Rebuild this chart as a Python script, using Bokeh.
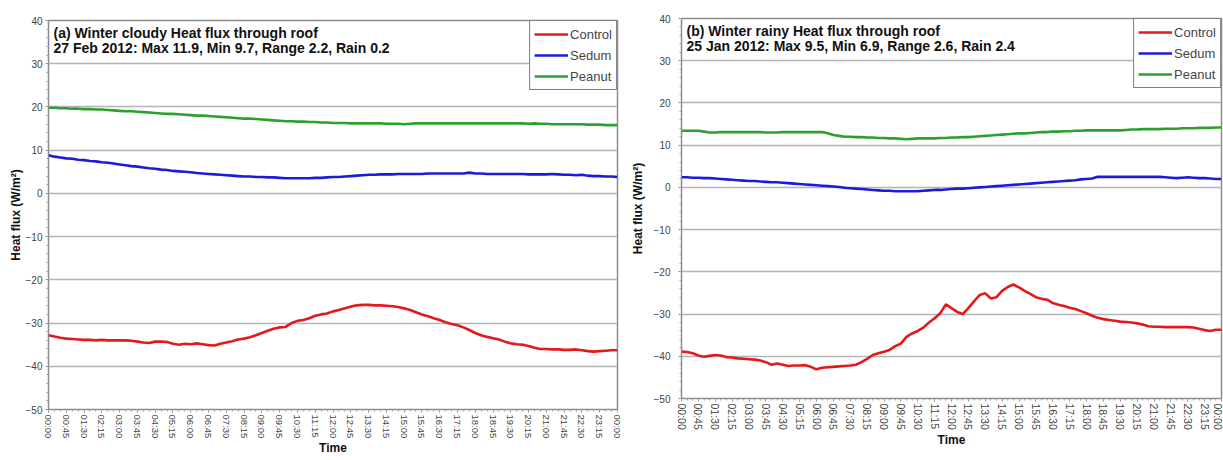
from bokeh.plotting import figure
from bokeh.layouts import row, column
from bokeh.models import FixedTicker, Label, Legend, LegendItem, Range1d
from bokeh.embed import file_html
from bokeh.resources import INLINE

# 15-minute slots over the day (00:00 .. next 00:00)
slot = list(range(97))

time_labels = ["00:00", "00:45", "01:30", "02:15", "03:00", "03:45", "04:30", "05:15",
               "06:00", "06:45", "07:30", "08:15", "09:00", "09:45", "10:30", "11:15",
               "12:00", "12:45", "13:30", "14:15", "15:00", "15:45", "16:30", "17:15",
               "18:00", "18:45", "19:30", "20:15", "21:00", "21:45", "22:30", "23:15",
               "00:00"]

y_ticks = [-50, -40, -30, -20, -10, 0, 10, 20, 30, 40]

series_names = ["Control", "Sedum", "Peanut"]

# (a) Winter cloudy, 27 Feb 2012
a_control = [-32.8, -33.1, -33.4, -33.6, -33.7, -33.8, -33.9, -33.9, -34.0, -33.9,
             -34.0, -34.0, -34.0, -34.0, -34.1, -34.3, -34.5, -34.6, -34.3, -34.3,
             -34.4, -34.8, -35.0, -34.8, -34.9, -34.7, -34.9, -35.1, -35.2, -34.8,
             -34.5, -34.2, -33.8, -33.6, -33.3, -32.8, -32.3, -31.8, -31.3, -31.0,
             -30.9, -30.0, -29.5, -29.3, -28.9, -28.3, -28.0, -27.8, -27.3, -27.0,
             -26.6, -26.2, -25.9, -25.8, -25.8, -25.9, -25.9, -26.0, -26.1, -26.3,
             -26.6, -27.0, -27.5, -28.0, -28.4, -28.9, -29.3, -29.8, -30.2, -30.5,
             -31.0, -31.6, -32.3, -32.8, -33.2, -33.5, -33.8, -34.3, -34.7, -34.9,
             -35.0, -35.3, -35.7, -36.0, -36.0, -36.1, -36.1, -36.2, -36.2, -36.1,
             -36.3, -36.5, -36.6, -36.5, -36.4, -36.3, -36.3]
a_sedum = [8.8, 8.5, 8.3, 8.1, 8.0, 7.8, 7.7, 7.5, 7.4, 7.2,
           7.1, 6.9, 6.7, 6.5, 6.3, 6.2, 6.0, 5.8, 5.7, 5.5,
           5.4, 5.2, 5.1, 5.0, 4.9, 4.7, 4.6, 4.5, 4.4, 4.3,
           4.2, 4.1, 4.0, 3.9, 3.9, 3.8, 3.8, 3.7, 3.7, 3.6,
           3.5, 3.5, 3.5, 3.5, 3.5, 3.6, 3.6, 3.7, 3.8, 3.8,
           3.9, 4.0, 4.1, 4.2, 4.3, 4.3, 4.4, 4.4, 4.4, 4.5,
           4.5, 4.5, 4.5, 4.5, 4.6, 4.6, 4.6, 4.6, 4.6, 4.6,
           4.6, 4.8, 4.6, 4.6, 4.5, 4.5, 4.5, 4.5, 4.5, 4.5,
           4.5, 4.4, 4.4, 4.4, 4.4, 4.5, 4.4, 4.3, 4.3, 4.2,
           4.3, 4.1, 4.0, 4.0, 3.9, 3.9, 3.8]
a_peanut = [19.8, 19.8, 19.7, 19.7, 19.6, 19.6, 19.5, 19.5, 19.4, 19.4,
            19.3, 19.2, 19.1, 19.0, 19.0, 18.9, 18.8, 18.7, 18.6, 18.5,
            18.4, 18.4, 18.3, 18.2, 18.1, 18.0, 18.0, 17.9, 17.8, 17.7,
            17.6, 17.5, 17.4, 17.3, 17.3, 17.2, 17.1, 17.0, 16.9, 16.8,
            16.7, 16.7, 16.6, 16.6, 16.5, 16.5, 16.4, 16.4, 16.3, 16.3,
            16.3, 16.2, 16.2, 16.2, 16.2, 16.2, 16.2, 16.1, 16.1, 16.1,
            16.0, 16.1, 16.2, 16.2, 16.2, 16.2, 16.2, 16.2, 16.2, 16.2,
            16.2, 16.2, 16.2, 16.2, 16.2, 16.2, 16.2, 16.2, 16.2, 16.2,
            16.2, 16.1, 16.2, 16.1, 16.1, 16.0, 16.0, 16.0, 16.0, 16.0,
            16.0, 15.9, 15.9, 15.9, 15.8, 15.8, 15.8]

# (b) Winter rainy, 25 Jan 2012
b_control = [-38.9, -39.0, -39.3, -39.8, -40.1, -39.9, -39.7, -39.8, -40.2, -40.3,
             -40.5, -40.6, -40.7, -40.8, -41.0, -41.4, -42.0, -41.7, -42.0, -42.3,
             -42.2, -42.2, -42.1, -42.5, -43.1, -42.7, -42.6, -42.5, -42.4, -42.3,
             -42.2, -42.0, -41.4, -40.6, -39.7, -39.3, -38.9, -38.5, -37.6, -37.0,
             -35.4, -34.6, -34.0, -33.2, -32.0, -31.0, -29.8, -27.7, -28.6, -29.5,
             -30.0, -28.6, -27.0, -25.5, -25.1, -26.3, -26.0, -24.5, -23.6, -23.0,
             -23.7, -24.5, -25.2, -26.0, -26.4, -26.6, -27.4, -27.8, -28.1, -28.5,
             -28.8, -29.3, -29.8, -30.4, -30.9, -31.2, -31.4, -31.6, -31.8, -31.9,
             -32.0, -32.2, -32.5, -32.9, -33.0, -33.0, -33.1, -33.1, -33.1, -33.1,
             -33.1, -33.2, -33.5, -33.8, -34.0, -33.7, -33.7]
b_sedum = [2.4, 2.4, 2.3, 2.3, 2.2, 2.2, 2.1, 2.0, 1.9, 1.8,
           1.7, 1.6, 1.5, 1.5, 1.4, 1.3, 1.2, 1.2, 1.1, 1.0,
           0.9, 0.8, 0.7, 0.6, 0.5, 0.4, 0.3, 0.2, 0.1, -0.1,
           -0.2, -0.3, -0.4, -0.5, -0.6, -0.7, -0.8, -0.8, -0.9, -0.9,
           -0.9, -0.9, -0.9, -0.8, -0.7, -0.6, -0.6, -0.5, -0.4, -0.3,
           -0.3, -0.2, -0.1, 0.0, 0.1, 0.2, 0.3, 0.4, 0.5, 0.6,
           0.7, 0.8, 0.9, 1.0, 1.1, 1.2, 1.3, 1.4, 1.5, 1.6,
           1.7, 1.9, 2.0, 2.1, 2.5, 2.5, 2.5, 2.5, 2.5, 2.5,
           2.5, 2.5, 2.5, 2.5, 2.5, 2.5, 2.4, 2.3, 2.2, 2.3,
           2.4, 2.3, 2.2, 2.2, 2.1, 2.0, 2.0]
b_peanut = [13.4, 13.4, 13.4, 13.4, 13.2, 13.0, 13.0, 13.1, 13.1, 13.1,
            13.1, 13.1, 13.1, 13.1, 13.1, 13.0, 13.0, 13.0, 13.1, 13.1,
            13.1, 13.1, 13.1, 13.1, 13.1, 13.1, 12.8, 12.4, 12.2, 12.0,
            12.0, 11.9, 11.9, 11.8, 11.8, 11.7, 11.7, 11.6, 11.6, 11.5,
            11.4, 11.5, 11.6, 11.6, 11.6, 11.6, 11.7, 11.7, 11.8, 11.8,
            11.9, 11.9, 12.0, 12.1, 12.2, 12.3, 12.4, 12.5, 12.6, 12.7,
            12.8, 12.8, 12.9, 13.0, 13.1, 13.1, 13.2, 13.2, 13.3, 13.3,
            13.4, 13.4, 13.5, 13.5, 13.5, 13.5, 13.5, 13.5, 13.5, 13.6,
            13.7, 13.7, 13.8, 13.8, 13.8, 13.8, 13.9, 13.9, 13.9, 14.0,
            14.0, 14.0, 14.1, 14.1, 14.1, 14.2, 14.2]

colors = ["#e31a1c", "#1c1cd8", "#2ca02c"]
FONT = "Liberation Sans"


def make_panel(line1, line2, values, width, height, bl, br, bt, bb, xfs, title_y,
               y_standoff, y_label_standoff):
    p = figure(width=width, height=height, output_backend="svg", toolbar_location=None,
               x_range=Range1d(0, 96), y_range=Range1d(-50, 40),
               min_border_left=bl, min_border_right=br, min_border_top=bt,
               min_border_bottom=bb)
    p.outline_line_color = "#8c8c8c"
    p.outline_line_width = 1.5
    p.background_fill_color = "white"
    p.border_fill_color = "white"

    items = []
    for name, vals, col in zip(series_names, values, colors):
        r = p.line(slot, vals, line_color=col, line_width=2.6)
        items.append(LegendItem(label=name, renderers=[r]))

    # axes
    p.xaxis.ticker = FixedTicker(ticks=list(range(0, 97, 3)), minor_ticks=slot)
    p.xaxis.major_label_overrides = {i * 3: t for i, t in enumerate(time_labels)}
    p.xaxis.major_label_orientation = "vertical"
    p.xaxis.axis_label = "Time"
    p.yaxis.ticker = FixedTicker(ticks=y_ticks, minor_ticks=list(range(-50, 41, 2)))
    p.yaxis.axis_label = "Heat flux (W/m\u00b2)"
    for ax in (p.xaxis[0], p.yaxis[0]):
        ax.axis_label_text_font = FONT
        ax.axis_label_text_font_style = "bold"
        ax.axis_label_text_font_size = "12px"
        ax.axis_label_text_color = "#111111"
        ax.axis_label_standoff = 0
        ax.major_label_text_font = FONT
        ax.major_label_text_font_size = "10px"
        ax.major_label_text_color = "#444444"
        ax.major_label_standoff = 3
        ax.axis_line_color = "#8c8c8c"
        ax.major_tick_line_color = "#8c8c8c"
        ax.minor_tick_line_color = "#a0a0a0"
        ax.major_tick_out = 3
        ax.major_tick_in = 0
        ax.minor_tick_out = 2
        ax.minor_tick_in = 0
    p.xaxis.major_label_text_font_size = xfs
    p.xaxis.major_label_standoff = 2
    p.yaxis.major_label_standoff = y_standoff
    p.yaxis.axis_label_standoff = y_label_standoff
    p.xgrid.visible = False
    p.ygrid.ticker = FixedTicker(ticks=y_ticks)
    p.ygrid.grid_line_color = "#b4b4b4"
    p.ygrid.grid_line_width = 1.5

    legend = Legend(items=items, location="top_right", margin=0, padding=4, spacing=3,
                    border_line_color="black", border_line_width=1,
                    label_text_font=FONT, label_text_font_size="13px",
                    label_standoff=2, glyph_width=34, glyph_height=18,
                    label_height=18,
                    background_fill_color="white", background_fill_alpha=1)
    p.add_layout(legend)

    for txt, ty in zip((line1, line2), title_y):
        p.add_layout(Label(x=0, y=ty, x_offset=5, text=txt, text_font=FONT,
                           text_font_style="bold", text_font_size="14px",
                           text_color="#111111", text_baseline="top"))
    return p


pa = make_panel("(a) Winter cloudy Heat flux through roof",
                "27 Feb 2012: Max 11.9, Min 9.7, Range 2.2, Rain 0.2",
                [a_control, a_sedum, a_peanut], 625, 460, 48, 8, 20, 51, "9.5px",
                (39.0, 35.4), 3, 0)
pb = make_panel("(b) Winter rainy Heat flux through roof",
                "25 Jan 2012: Max 9.5, Min 6.9, Range 2.6, Rain 2.4",
                [b_control, b_sedum, b_peanut], 598, 460, 56, 2, 18, 62, "10.5px",
                (39.0, 35.3), 8, 6)

layout = row(column(pa), column(pb))
open("out.html", "w").write(file_html(layout, INLINE))
